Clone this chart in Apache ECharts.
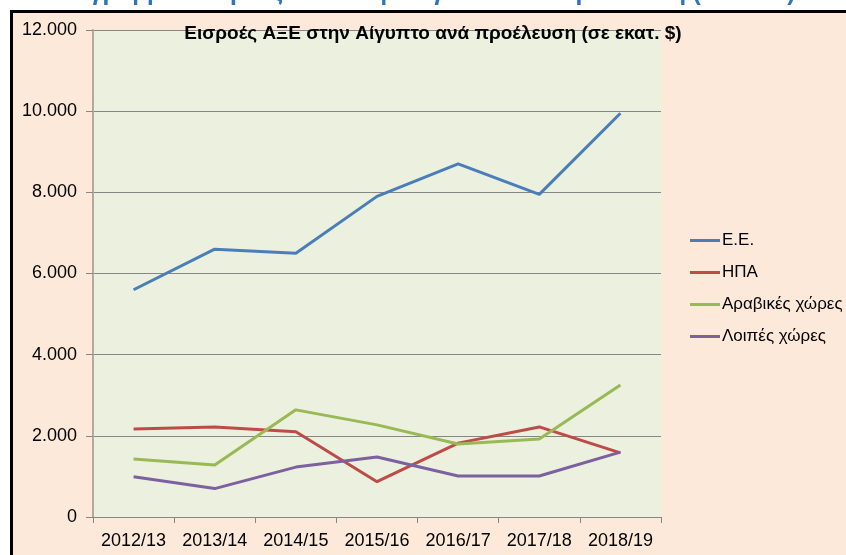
<!DOCTYPE html>
<html><head><meta charset="utf-8">
<script src="https://cdn.jsdelivr.net/npm/echarts@6/dist/echarts.min.js"></script>
<style>html,body{margin:0;padding:0;background:#fff}#c{width:846px;height:555px}</style>
</head><body><div id="c"></div>
<script>
const categories = ['2012/13','2013/14','2014/15','2015/16','2016/17','2017/18','2018/19'];
const seriesNames = ['Ε.Ε.','ΗΠΑ','Αραβικές χώρες','Λοιπές χώρες'];
const eu = [5600, 6600, 6500, 7900, 8700, 7950, 9950];
const usa = [2170, 2220, 2100, 870, 1820, 2220, 1580];
const arab = [1430, 1280, 2640, 2270, 1800, 1920, 3250];
const others = [990, 700, 1230, 1480, 1010, 1010, 1600];
const colors = ['#4A7EBB','#BE4B48','#98B954','#7D60A0'];
const chartTitle = 'Εισροές ΑΞΕ στην Αίγυπτο ανά προέλευση (σε εκατ. $)';
const pageTitle = 'Διάγραμμα: Εισροές ΑΞΕ στην Αίγυπτο ανά προέλευση (2012/19)';

const font = '"Liberation Sans", Arial, sans-serif';
const chart = echarts.init(document.getElementById('c'), null, {renderer:'canvas'});
const dataList = [eu, usa, arab, others];
chart.setOption({
  backgroundColor: '#ffffff',
  animation: false,
  textStyle: {fontFamily: font},
  graphic: [
    {type:'rect', z:-10, shape:{x:11.5, y:11.5, width:900, height:600}, style:{fill:'#FDE9D9', stroke:'#000', lineWidth:3}},
    {type:'text', z:-5, left:'center', style:{text:pageTitle, x:0, fill:'#2F75B5', font:'bold 24px "Liberation Sans", Arial, sans-serif', verticalAlign:'bottom'}, top:-19}
  ],
  title: {
    text: chartTitle, left: 428, textAlign: 'center', top: 19,
    textStyle: {fontFamily: font, fontSize: 19, fontWeight: 'bold', color: '#000'}
  },
  grid: {left: 93, right: 185, top: 30, bottom: 38, show: true, backgroundColor: '#EBF1DE', borderWidth: 0},
  legend: {
    orient: 'vertical', left: 685, top: 227, itemGap: 15,
    icon: 'rect', itemWidth: 30, itemHeight: 3,
    textStyle: {fontFamily: font, fontSize: 17, color: '#000', padding:[0,0,0,-3]},
    data: seriesNames
  },
  xAxis: {
    type: 'category', data: categories, boundaryGap: true,
    axisLine: {lineStyle: {color: '#868686', width: 1}},
    axisTick: {show: true, length: 6, interval: 0, alignWithLabel: false, lineStyle: {color: '#868686'}},
    axisLabel: {fontFamily: font, fontSize: 18, color: '#000', margin: 15, interval: 0}
  },
  yAxis: {
    type: 'value', min: 0, max: 12000, interval: 2000,
    axisLine: {show: true, lineStyle: {color: '#B5A99A', width: 2}},
    axisTick: {show: true, length: 7, lineStyle: {color: '#868686'}},
    splitLine: {lineStyle: {color: '#868686', width: 1}},
    axisLabel: {fontFamily: font, fontSize: 18, color: '#000', margin: 16,
      formatter: v => v.toLocaleString('de-DE')}
  },
  series: seriesNames.map((n, i) => ({
    name: n, type: 'line', data: dataList[i], symbol: 'none',
    lineStyle: {color: colors[i], width: 3}, itemStyle: {color: colors[i]}
  }))
});
</script></body></html>
